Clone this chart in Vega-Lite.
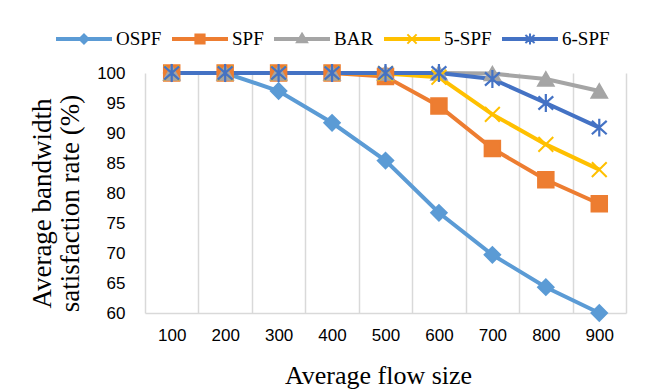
{
  "$schema": "https://vega.github.io/schema/vega-lite/v6.json",
  "width": 481,
  "height": 240,
  "autosize": "none",
  "padding": {"left": 145, "top": 73, "right": 25, "bottom": 77},
  "background": "white",
  "config": {"view": {"stroke": null}},
  "data": {
    "values": [
      {"x": 100, "series": "OSPF", "v": 100},
      {"x": 200, "series": "OSPF", "v": 100},
      {"x": 300, "series": "OSPF", "v": 97},
      {"x": 400, "series": "OSPF", "v": 91.7},
      {"x": 500, "series": "OSPF", "v": 85.4},
      {"x": 600, "series": "OSPF", "v": 76.7},
      {"x": 700, "series": "OSPF", "v": 69.7},
      {"x": 800, "series": "OSPF", "v": 64.3},
      {"x": 900, "series": "OSPF", "v": 60},
      {"x": 100, "series": "SPF", "v": 100},
      {"x": 200, "series": "SPF", "v": 100},
      {"x": 300, "series": "SPF", "v": 100},
      {"x": 400, "series": "SPF", "v": 100},
      {"x": 500, "series": "SPF", "v": 99.4},
      {"x": 600, "series": "SPF", "v": 94.5},
      {"x": 700, "series": "SPF", "v": 87.4},
      {"x": 800, "series": "SPF", "v": 82.2},
      {"x": 900, "series": "SPF", "v": 78.2},
      {"x": 100, "series": "BAR", "v": 100},
      {"x": 200, "series": "BAR", "v": 100},
      {"x": 300, "series": "BAR", "v": 100},
      {"x": 400, "series": "BAR", "v": 100},
      {"x": 500, "series": "BAR", "v": 100},
      {"x": 600, "series": "BAR", "v": 100},
      {"x": 700, "series": "BAR", "v": 99.9},
      {"x": 800, "series": "BAR", "v": 99},
      {"x": 900, "series": "BAR", "v": 97},
      {"x": 100, "series": "5-SPF", "v": 100},
      {"x": 200, "series": "5-SPF", "v": 100},
      {"x": 300, "series": "5-SPF", "v": 100},
      {"x": 400, "series": "5-SPF", "v": 100},
      {"x": 500, "series": "5-SPF", "v": 99.9},
      {"x": 600, "series": "5-SPF", "v": 99.3},
      {"x": 700, "series": "5-SPF", "v": 93.1},
      {"x": 800, "series": "5-SPF", "v": 88.1},
      {"x": 900, "series": "5-SPF", "v": 83.9},
      {"x": 100, "series": "6-SPF", "v": 100},
      {"x": 200, "series": "6-SPF", "v": 100},
      {"x": 300, "series": "6-SPF", "v": 100},
      {"x": 400, "series": "6-SPF", "v": 100},
      {"x": 500, "series": "6-SPF", "v": 100},
      {"x": 600, "series": "6-SPF", "v": 100},
      {"x": 700, "series": "6-SPF", "v": 99},
      {"x": 800, "series": "6-SPF", "v": 95},
      {"x": 900, "series": "6-SPF", "v": 90.9}
    ]
  },
  "encoding": {
    "x": {
      "field": "x",
      "type": "ordinal",
      "scale": {"type": "band", "paddingInner": 0, "paddingOuter": 0},
      "axis": {
        "title": "Average flow size",
        "titleFont": "Liberation Serif",
        "titleFontSize": 26,
        "titleFontWeight": "normal",
        "titleColor": "#000000",
        "titleBaseline": "alphabetic",
        "titleAlign": "center",
        "titleX": 233,
        "titleY": 70,
        "labelAngle": 0,
        "labelFont": "Liberation Sans",
        "labelFontSize": 17,
        "labelColor": "#000000",
        "labelPadding": 14,
        "ticks": false,
        "tickSize": 0,
        "tickBand": "extent",
        "grid": true,
        "gridColor": "#D9D9D9",
        "gridWidth": 1.5,
        "domain": true,
        "domainColor": "#D9D9D9",
        "domainWidth": 1.5
      }
    },
    "y": {
      "field": "v",
      "type": "quantitative",
      "scale": {"domain": [60, 100], "nice": false, "zero": false},
      "axis": {
        "title": ["Average bandwidth", "satisfaction rate (%)"],
        "titleFont": "Liberation Serif",
        "titleFontSize": 27,
        "titleFontWeight": "normal",
        "titleColor": "#000000",
        "titleLineHeight": 28,
        "titleAngle": -90,
        "titleAlign": "center",
        "titleBaseline": "middle",
        "titleX": -103,
        "titleY": 130,
        "values": [60, 65, 70, 75, 80, 85, 90, 95, 100],
        "labelFont": "Liberation Sans",
        "labelFontSize": 17,
        "labelColor": "#000000",
        "labelPadding": 20,
        "ticks": false,
        "tickSize": 0,
        "grid": false,
        "domain": false
      }
    }
  },
  "layer": [
    {
      "mark": {"type": "line", "strokeWidth": 4},
      "encoding": {
        "color": {
          "field": "series",
          "type": "nominal",
          "scale": {
            "domain": ["OSPF", "SPF", "BAR", "5-SPF", "6-SPF"],
            "range": ["#5B9BD5", "#ED7D31", "#A5A5A5", "#FFC000", "#4472C4"]
          },
          "legend": {
            "title": null,
            "orient": "none",
            "direction": "horizontal",
            "legendX": -89,
            "legendY": -62,
            "padding": 0,
            "symbolSize": 2916,
            "symbolStrokeWidth": 2,
            "labelFont": "Liberation Serif",
            "labelFontSize": 19,
            "labelColor": "#000000",
            "labelOffset": 4,
            "columnPadding": 7,
            "encode": {
              "symbols": {
                "update": {
                  "shape": {"signal": "datum.value === 'OSPF' ? 'M-1,-0.04L1,-0.04L1,0.04L-1,0.04Z M0,-0.17L0.17,0L0,0.17L-0.17,0Z' : datum.value === 'SPF' ? 'M-1,-0.04L1,-0.04L1,0.04L-1,0.04Z M-0.17,-0.17L0.17,-0.17L0.17,0.17L-0.17,0.17Z' : datum.value === 'BAR' ? 'M-1,-0.04L1,-0.04L1,0.04L-1,0.04Z M0,-0.2L0.19,0.12L-0.19,0.12Z' : datum.value === '5-SPF' ? 'M-1,-0.04L1,-0.04L1,0.04L-1,0.04Z M-0.17,-0.17L0.17,0.17M-0.17,0.17L0.17,-0.17' : 'M-1,-0.04L1,-0.04L1,0.04L-1,0.04Z M-0.17,-0.15L0.17,0.15M-0.17,0.15L0.17,-0.15M0,-0.2L0,0.2'"},
                  "fill": {"scale": "color", "field": "value"},
                  "stroke": {"scale": "color", "field": "value"},
                  "strokeWidth": {"value": 2},
                  "opacity": {"value": 1}
                }
              }
            }
          }
        }
      }
    },
    {
      "transform": [{"filter": "datum.series === 'OSPF'"}],
      "mark": {"type": "point", "shape": "diamond", "filled": true, "fill": "#5B9BD5", "stroke": "#5B9BD5", "strokeWidth": 2, "opacity": 1, "size": 240}
    },
    {
      "transform": [{"filter": "datum.series === 'SPF'"}],
      "mark": {"type": "point", "shape": "square", "filled": true, "fill": "#ED7D31", "stroke": "#ED7D31", "strokeWidth": 2, "opacity": 1, "size": 240}
    },
    {
      "transform": [{"filter": "datum.series === 'BAR'"}],
      "mark": {"type": "point", "shape": "triangle-up", "filled": true, "fill": "#A5A5A5", "stroke": "#A5A5A5", "strokeWidth": 2, "opacity": 1, "size": 240}
    },
    {
      "transform": [{"filter": "datum.series === '5-SPF'"}],
      "mark": {"type": "point", "shape": "M-1,-1L1,1M-1,1L1,-1", "filled": false, "stroke": "#FFC000", "strokeWidth": 2, "opacity": 1, "size": 220}
    },
    {
      "transform": [{"filter": "datum.series === '6-SPF'"}],
      "mark": {"type": "point", "shape": "M-1,-0.9L1,0.9M-1,0.9L1,-0.9M0,-1.2L0,1.2", "filled": false, "stroke": "#4472C4", "strokeWidth": 2.2, "opacity": 1, "size": 220}
    }
  ]
}
